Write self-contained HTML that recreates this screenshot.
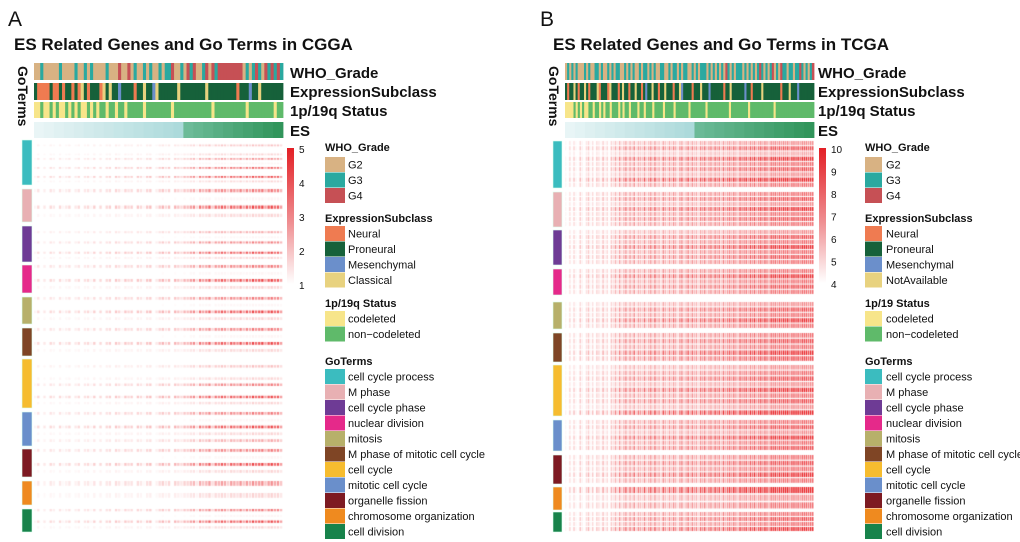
<!DOCTYPE html>
<html><head><meta charset="utf-8">
<style>
body{margin:0;background:#fff;}
#root{position:relative;width:1020px;height:542px;overflow:hidden;font-family:"Liberation Sans",Arial,sans-serif;}
</style></head>
<body>
<div id="root">
<svg id="svg" width="1020" height="542" xmlns="http://www.w3.org/2000/svg" style="position:absolute;left:0;top:0"></svg>
</div>
<script>
// ---- data ----
const whoA = "22322222322223223232222322242242322323223233422324342234243444444442323432434343".split('');
const exprA = "PNNNNPNNPNPPNPNCPNPPPNCPCPPMPPPPNPPCPPMCPPPPPPCPPPPPPPPCPPPPPPPPPNPPPMPPCPPPPPPP".split('');
const codelA = "YYGYYGYGYYGYGYGYYGYGYGGYGGYGGYGGGGGYGGGGGGGGYGGGGGGGGGGGGYGGGGGGGGGGYGGGGGGGGYGG".split('');
const esA = [0.02,0.06,0.1,0.14,0.18,0.22,0.26,0.3,0.34,0.38,0.42,0.46,0.5,0.54,0.58,0.62,0.66,0.7,0.74,0.78,0.82,0.86,0.9,0.94,0.98];
const whoB = "2323232223232233232232323322323232232332323223322323323233223232333232323232432323332323232343232342324332332334323234".split('');
const exprB = "PNPPCPNPPCPNPPPCNPPPNCPPPNPCPPNPPCPPNPMPPCPPNPPCPPPNPPCMPPPPNPPPCPPPMPPPPPPNPPCPPPPPPMPPNPPPPCPPPPPPPPNPPPCPPPMPPPPPPP".split('');
const codelB = "YYYYGYGYGYYGGYGGYGYGGYGGGYGYGGYGGGYGGYGGGYGGGGYGGGGYGGGGGGYGGGGGGGYGGGGGGGGGGYGGGGGGGGYGGGGGGGGGGGYGGGGGGGGGGGGGGGGGG".split('');
const esB = [0.02,0.06,0.1,0.14,0.18,0.22,0.26,0.3,0.34,0.38,0.42,0.46,0.5,0.54,0.58,0.62,0.66,0.7,0.74,0.78,0.82,0.86,0.9,0.94,0.98];
const colA = [.1,.3,0,.2,0,.3,.2,0,.3,.1,.2,.3,0,.2,.3,0,.25,.3,.1,.35,0,.3,0,.3,.35,0,.4,.3,.1,.4,.3,.35,0,.4,.3,.1,.4,.45,0,.2,.4,.5,.3,.45,0,.5,.4,.3,.5,.45,.6,.7,.3,.8,.6,.7,.9,.4,.8,.7,.9,.8,.5,.9,.8,.7,.95,.6,.9,.7,1,.8,.9,1,.6,.9,1,.8,.9,.6];
const colB = [.1,0,.3,.05,.35,.1,0,.4,.15,.05,.3,.45,.1,.35,0,.4,.3,.1,.5,.15,.35,.05,.45,.3,.6,.25,.7,.3,.55,.75,.35,.7,.4,.8,.3,.65,.55,.4,.8,.35,.6,.75,.4,.85,.45,.6,.3,.8,.6,.4,.75,.45,.8,.6,.3,.7,.8,.4,.6,.85,.45,.8,.55,.7,.35,.8,.6,.85,.45,.7,.8,.5,.85,.6,.8,.45,.9,.55,.75,.85,.6,.9,.7,.5,.95,.7,.8,.9,.6,.95,.75,1,.6,.85,.95,.7,1,.85,.6,1,.9,1,.8,1,.85,1,.9,1,.7,1,1,.9,1,.8,1,1,1,.9,1,1];
const rowsA = [[0,.4,0,.3,.6,.1,.8,0,.9,.3],[.7,.1,.9,.3],[0,.5,.1,.7,0,.9,.3],[.7,.1,.9,.3],[.7,.1,.9,.3],[.7,.1,.9,.3],[0,.4,0,.3,.7,0,.9,.3],[.7,.1,.9,.3,.5],[.7,.1,.9,.3],[.6,.3],[.7,.1,.9,.3]];
const rowsB = [[.5,.7,.4,.8,.6,.7,.5,.9,.6],[.6,.7,.5,.8,.6,.7,.6],[.5,.7,.6,.8,.6,.7,.6],[.6,.8,.6,.7,.6],[.5,.7,.6,.8,.6],[.6,.7,.6,.8,.7],[.5,.6,.7,.5,.8,.6,.7,.5,.9],[.6,.7,.5,.8,.6,.7],[.6,.7,.6,.8,.6],[.9,.5,.6],[.6,.7,.6,.8]];
const groupsA = [[140,185],[189,222],[226,262],[265,293],[297,324],[328,356],[359,408],[412,446],[449,477],[481,505],[509,532]];
const groupsB = [[141,188],[192,227],[230,265],[269,295],[302,329],[333,362],[365,416],[420,451],[455,484],[487,510],[512,532]];
const goTerms = ["cell cycle process","M phase","cell cycle phase","nuclear division","mitosis","M phase of mitotic cell cycle","cell cycle","mitotic cell cycle","organelle fission","chromosome organization","cell division"];
const goColors = ["#3bbcbf","#e8b0b3","#6e3b95","#e5298a","#b7b06a","#7f4525","#f6bc2f","#6a8fcb","#7d1a22","#ef8a1f","#18834b"];
const whoCol = {"2":"#d8b283","3":"#2aa9a0","4":"#c65055"};
const exprCol = {"N":"#ef7b51","P":"#16613a","M":"#6b8fcb","C":"#e8d27f"};
const codCol = {"Y":"#f7e58a","G":"#5fba6a"};
const ticksA = ["5","4","3","2","1"];
const ticksB = ["10","9","8","7","6","5","4"];

const NS="http://www.w3.org/2000/svg";
const svg=document.getElementById('svg');
function mk(tag,attrs,parent){const e=document.createElementNS(NS,tag);for(const k in attrs)e.setAttribute(k,attrs[k]);(parent||svg).appendChild(e);return e;}
function txt(x,y,s,size,weight,name,extra){const t=mk('text',Object.assign({x:x,y:y,'font-size':size,'font-weight':weight||'normal','font-family':'Liberation Sans, Arial, sans-serif',fill:'#111'},extra||{}));t.textContent=s;


return t;}

function strip(arr,colmap,x0,w,y,h,name){
  const g=mk('g',{});
  
  
  const cw=w/arr.length;
  arr.forEach((v,i)=>{const r=mk('rect',{x:x0+i*cw,y:y,width:cw+0.4,height:h,fill:colmap[v]},g);
    
    });
}
function mixc(a,b,t){return 'rgb('+a.map((v,i)=>Math.round(v+(b[i]-v)*t)).join(',')+')';}
function esStrip(arr,split,x0,w,y,h,name){
  const g=mk('g',{});
  
  
  const cw=w/arr.length;
  arr.forEach((v,i)=>{let c;
    if(v<split)c=mixc([235,246,247],[168,216,217],v/split);
    else c=mixc([108,187,152],[46,147,88],(v-split)/(1-split));
    const r=mk('rect',{x:x0+i*cw,y:y,width:cw+0.4,height:h,fill:c},g);
    
    });
}
function heat(cols,rows,groups,x0,w,rowFill,colFill,maxA,gam,name){
  const cv=document.createElement('canvas');
  cv.width=w;cv.height=542;
  cv.style.position='absolute';cv.style.left=x0+'px';cv.style.top='0px';
  
  
  document.getElementById('root').appendChild(cv);
  const ctx=cv.getContext('2d');
  const cw=w/cols.length;
  groups.forEach((gp,gi)=>{
    const rs=rows[gi];const rh=(gp[1]-gp[0])/rs.length;
    rs.forEach((rv,ri)=>{cols.forEach((cvv,ci)=>{
      const a=Math.min(1,Math.pow(cvv*rv,gam)*maxA);if(a<=0.02)return;
      ctx.fillStyle='rgba(232,32,36,'+a.toFixed(3)+')';
      ctx.fillRect(ci*cw,gp[0]+ri*rh,cw*colFill,rh*rowFill);
    });});
  });
}
function gobars(groups,x,w,name){
  groups.forEach((gp,i)=>{const r=mk('rect',{x:x,y:gp[0],width:w,height:gp[1]-gp[0],fill:goColors[i],stroke:'#dfe',"stroke-width":0.6});
    
    });
}
function colorbar(x,y,h,ticks,name){
  const id='cb'+name;
  const d=mk('defs',{});const lg=mk('linearGradient',{id:id,x1:0,y1:0,x2:0,y2:1},d);
  mk('stop',{offset:0,'stop-color':'#e31f25'},lg);mk('stop',{offset:0.55,'stop-color':'#ef8f92'},lg);mk('stop',{offset:1,'stop-color':'#ffffff'},lg);
  const r=mk('rect',{x:x,y:y,width:7,height:h,fill:'url(#'+id+')'});
  
  
  ticks.forEach((t,i)=>txt(x+12,y+2+i*h/(ticks.length-1)+3,t,10,'normal',name+'-tick'));
}
function legend(sx,sw,tx,expr4,cod){
  const sections=[
    ['WHO_Grade',147,157,[['G2','#d8b283'],['G3','#2aa9a0'],['G4','#c65055']]],
    ['ExpressionSubclass',218,226,[['Neural','#ef7b51'],['Proneural','#16613a'],['Mesenchymal','#6b8fcb'],[expr4,'#e8d27f']]],
    [cod,303,311,[['codeleted','#f7e58a'],['non\u2212codeleted','#5fba6a']]],
    ['GoTerms',361,369,goTerms.map((g,i)=>[g,goColors[i]])]
  ];
  sections.forEach(s=>{
    txt(sx,s[1]+4,s[0],11,'bold','legend-title');
    s[3].forEach((it,i)=>{const y=s[2]+i*15.5;
      const r=mk('rect',{x:sx,y:y,width:sw,height:15,fill:it[1]});
      
      
      txt(tx,y+11.5,it[0],11,'normal','legend-entry');});
  });
}
function panel(letter,lx,title,tx,hx,hw,who,expr,cod,es,split,labX,vtX){
  txt(lx,26,letter,21,'normal','panel-letter');
  txt(tx,50,title,17,'bold','chart-title');
  strip(who,whoCol,hx,hw,63,17,'who-grade-strip');
  strip(expr,exprCol,hx,hw,83,17,'expression-subclass-strip');
  strip(cod,codCol,hx,hw,102,16,'codeletion-strip');
  esStrip(es,split,hx,hw,122,16,'es-strip');
  txt(labX,78,'WHO_Grade',15,'bold','who-grade-label');
  txt(labX,97,'ExpressionSubclass',15,'bold','expression-subclass-label');
  txt(labX,116,'1p/19q Status',15,'bold','codeletion-label');
  txt(labX,136,'ES',15,'bold','es-label');
  txt(vtX,66,'GoTerms',14,'bold','goterms-vertical-label',{transform:'rotate(90 '+vtX+' 66)'});
}
panel('A',8,'ES Related Genes and Go Terms in CGGA',14,34,249,whoA,exprA,codelA,esA,0.62,290,18);
panel('B',540,'ES Related Genes and Go Terms in TCGA',553,565,249,whoB,exprB,codelB,esB,0.53,818,549);
gobars(groupsA,22,10,'goterm-bar-a');
gobars(groupsB,553,9,'goterm-bar-b');
heat(colA,rowsA,groupsA,34,249,0.4,0.75,1.0,1.3,'heatmap-a');
heat(colB,rowsB,groupsB,565,249,0.8,0.7,1.3,1.3,'heatmap-b');
colorbar(287,148,136,ticksA,'colorbar-a');
colorbar(819,148,135,ticksB,'colorbar-b');
legend(325,20,348,'Classical','1p/19q Status');
legend(865,17,886,'NotAvailable','1p/19 Status');
</script>
</body></html>
